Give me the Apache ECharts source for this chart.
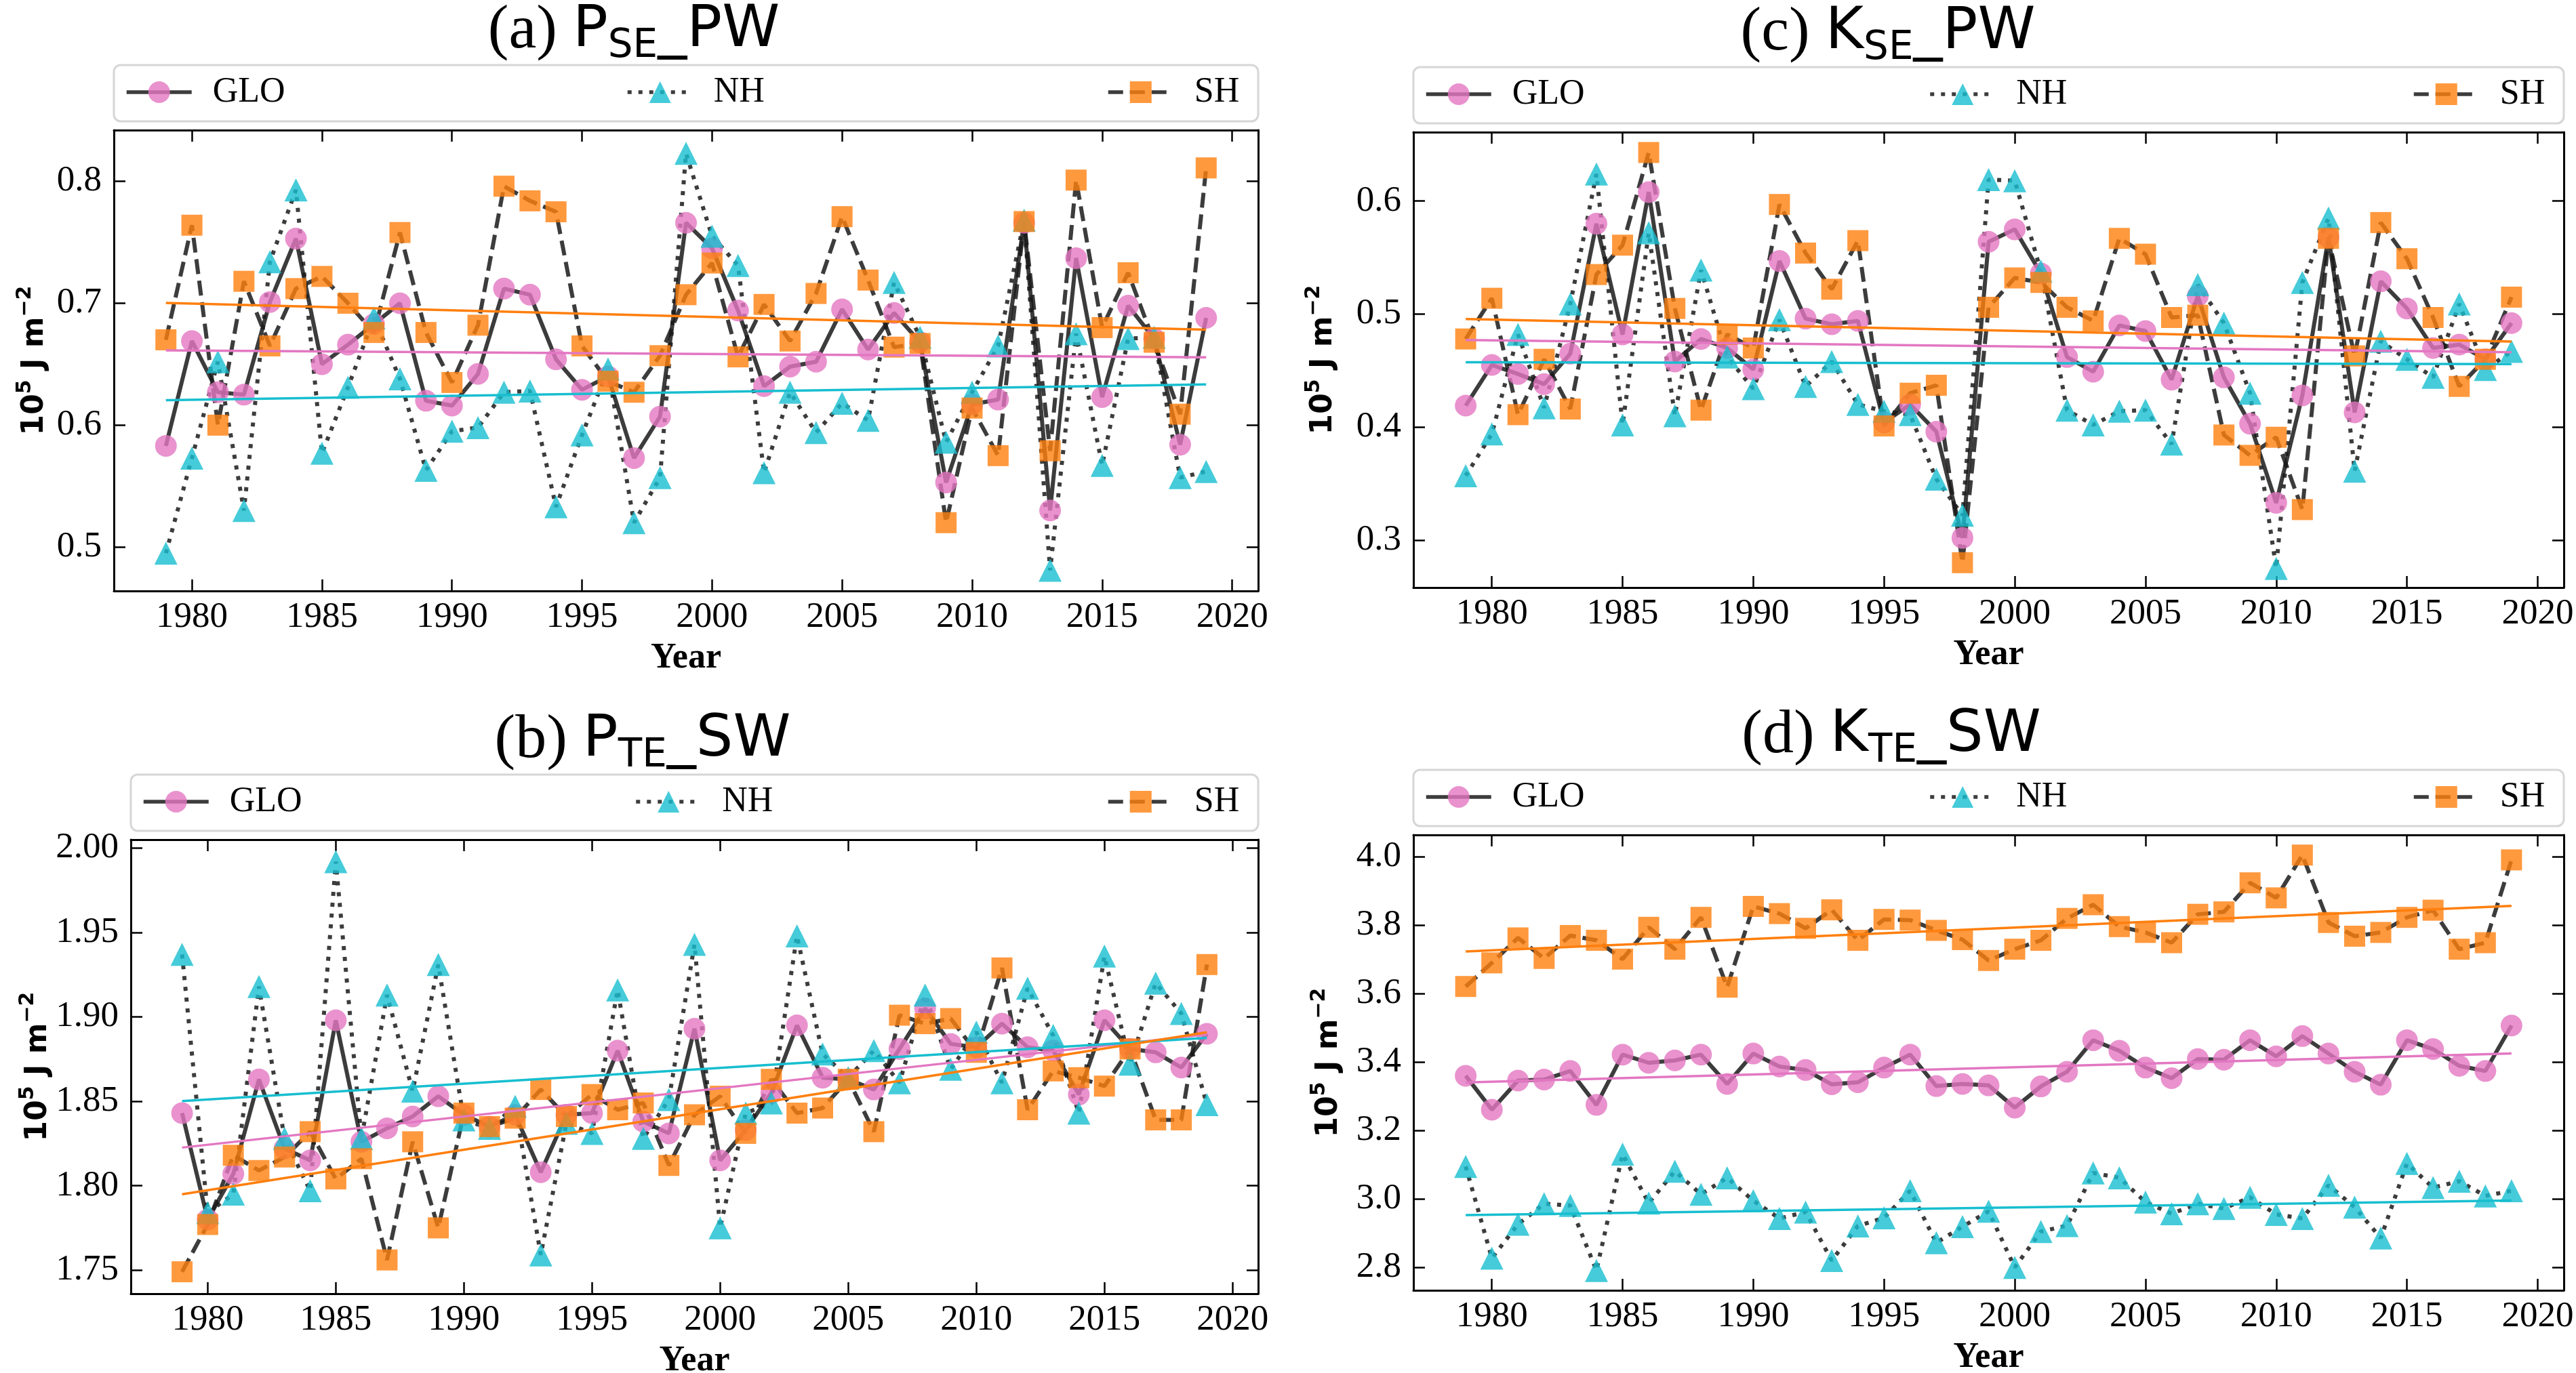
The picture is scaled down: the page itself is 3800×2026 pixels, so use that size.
<!DOCTYPE html>
<html>
<head>
<meta charset="utf-8">
<title>PW SW energy</title>
<script src="https://cdn.jsdelivr.net/npm/echarts@6/dist/echarts.min.js"></script>
<style>
    html, body { margin: 0; padding: 0; background: #fff; }
    #content { width: 3800px; height: 2026px; }
</style>
</head>
<body>
<div id="content"></div>
<script>
// 年份
var years = [1979, 1980, 1981, 1982, 1983, 1984, 1985, 1986, 1987, 1988,
    1989, 1990, 1991, 1992, 1993, 1994, 1995, 1996, 1997, 1998,
    1999, 2000, 2001, 2002, 2003, 2004, 2005, 2006, 2007, 2008,
    2009, 2010, 2011, 2012, 2013, 2014, 2015, 2016, 2017, 2018, 2019];
var xTicks = [1980, 1985, 1990, 1995, 2000, 2005, 2010, 2015, 2020];

// (a) P_SE_PW
var gloA = [0.583, 0.669, 0.627, 0.625, 0.701, 0.753, 0.650, 0.666, 0.683, 0.700,
    0.620, 0.616, 0.642, 0.712, 0.707, 0.654, 0.629, 0.640, 0.573, 0.607,
    0.766, 0.745, 0.694, 0.632, 0.648, 0.652, 0.695, 0.662, 0.692, 0.668,
    0.553, 0.617, 0.621, 0.766, 0.530, 0.737, 0.623, 0.698, 0.671, 0.584, 0.688];
var nhA = [0.495, 0.573, 0.652, 0.530, 0.734, 0.793, 0.577, 0.631, 0.688, 0.638,
    0.563, 0.595, 0.598, 0.627, 0.628, 0.533, 0.592, 0.646, 0.520, 0.557,
    0.823, 0.755, 0.731, 0.561, 0.627, 0.594, 0.618, 0.604, 0.717, 0.672,
    0.586, 0.627, 0.665, 0.768, 0.481, 0.675, 0.567, 0.671, 0.672, 0.557, 0.562];
var shA = [0.670, 0.764, 0.600, 0.718, 0.665, 0.712, 0.722, 0.700, 0.676, 0.758,
    0.676, 0.635, 0.682, 0.796, 0.784, 0.775, 0.665, 0.636, 0.627, 0.657,
    0.707, 0.733, 0.656, 0.699, 0.669, 0.708, 0.771, 0.719, 0.664, 0.667,
    0.520, 0.614, 0.575, 0.767, 0.579, 0.801, 0.680, 0.725, 0.668, 0.609, 0.811];
var yTicksA = [0.5, 0.6, 0.7, 0.8];

// (b) P_TE_SW
var gloB = [1.843, 1.780, 1.807, 1.863, 1.822, 1.815, 1.898, 1.826, 1.834, 1.841,
    1.853, 1.842, 1.835, 1.842, 1.808, 1.842, 1.843, 1.880, 1.838, 1.831,
    1.893, 1.815, 1.833, 1.855, 1.895, 1.864, 1.863, 1.857, 1.881, 1.905,
    1.884, 1.882, 1.896, 1.882, 1.880, 1.854, 1.898, 1.881, 1.879, 1.870, 1.890];
var nhB = [1.937, 1.784, 1.795, 1.918, 1.828, 1.797, 1.992, 1.828, 1.913, 1.856,
    1.931, 1.839, 1.834, 1.847, 1.759, 1.837, 1.831, 1.916, 1.828, 1.851,
    1.943, 1.775, 1.843, 1.849, 1.948, 1.878, 1.864, 1.880, 1.861, 1.913,
    1.869, 1.891, 1.861, 1.917, 1.889, 1.843, 1.936, 1.872, 1.920, 1.902, 1.848];
var shB = [1.749, 1.777, 1.818, 1.809, 1.817, 1.832, 1.804, 1.816, 1.756, 1.826,
    1.775, 1.843, 1.835, 1.840, 1.857, 1.841, 1.854, 1.845, 1.849, 1.812,
    1.842, 1.853, 1.831, 1.863, 1.843, 1.846, 1.863, 1.832, 1.901, 1.896,
    1.899, 1.879, 1.929, 1.845, 1.868, 1.864, 1.859, 1.881, 1.839, 1.839, 1.931];
var yTicksB = [1.75, 1.80, 1.85, 1.90, 1.95, 2.00];

// (c) K_SE_PW
var gloC = [0.419, 0.455, 0.447, 0.438, 0.465, 0.580, 0.482, 0.608, 0.458, 0.478,
    0.470, 0.451, 0.547, 0.496, 0.491, 0.494, 0.404, 0.420, 0.396, 0.302,
    0.564, 0.575, 0.536, 0.462, 0.449, 0.490, 0.485, 0.442, 0.516, 0.444,
    0.403, 0.333, 0.428, 0.568, 0.413, 0.529, 0.505, 0.470, 0.473, 0.460, 0.492];
var nhC = [0.357, 0.394, 0.482, 0.417, 0.509, 0.624, 0.402, 0.572, 0.410, 0.539,
    0.462, 0.434, 0.495, 0.436, 0.458, 0.420, 0.414, 0.411, 0.354, 0.322,
    0.619, 0.618, 0.538, 0.415, 0.402, 0.414, 0.415, 0.385, 0.526, 0.492,
    0.430, 0.275, 0.528, 0.585, 0.361, 0.476, 0.460, 0.444, 0.509, 0.451, 0.467];
var shC = [0.478, 0.514, 0.411, 0.460, 0.416, 0.535, 0.561, 0.643, 0.505, 0.415,
    0.482, 0.470, 0.597, 0.554, 0.522, 0.565, 0.401, 0.430, 0.437, 0.280,
    0.506, 0.532, 0.528, 0.506, 0.494, 0.567, 0.553, 0.497, 0.499, 0.393,
    0.375, 0.391, 0.327, 0.567, 0.463, 0.581, 0.549, 0.497, 0.436, 0.460, 0.515];
var yTicksC = [0.3, 0.4, 0.5, 0.6];

// (d) K_TE_SW
var gloD = [3.360, 3.261, 3.346, 3.349, 3.374, 3.275, 3.422, 3.398, 3.405, 3.422,
    3.336, 3.425, 3.387, 3.377, 3.335, 3.341, 3.384, 3.422, 3.330, 3.336,
    3.332, 3.267, 3.329, 3.372, 3.464, 3.433, 3.384, 3.353, 3.409, 3.407,
    3.464, 3.417, 3.476, 3.425, 3.372, 3.334, 3.464, 3.438, 3.389, 3.374, 3.507];
var nhD = [3.095, 2.827, 2.926, 2.986, 2.981, 2.791, 3.131, 2.988, 3.081, 3.014,
    3.062, 2.995, 2.943, 2.962, 2.820, 2.921, 2.945, 3.024, 2.872, 2.919,
    2.964, 2.800, 2.905, 2.922, 3.076, 3.062, 2.991, 2.957, 2.986, 2.972,
    3.005, 2.955, 2.943, 3.040, 2.976, 2.886, 3.104, 3.033, 3.052, 3.009, 3.024];
var shD = [3.621, 3.690, 3.763, 3.703, 3.770, 3.756, 3.701, 3.794, 3.730, 3.823,
    3.619, 3.855, 3.834, 3.791, 3.845, 3.756, 3.817, 3.815, 3.785, 3.758,
    3.697, 3.730, 3.756, 3.820, 3.860, 3.796, 3.779, 3.749, 3.832, 3.839,
    3.924, 3.880, 4.005, 3.808, 3.768, 3.779, 3.823, 3.844, 3.730, 3.749, 3.991];
var yTicksD = [2.8, 3.0, 3.2, 3.4, 3.6, 3.8, 4.0];

var SERIF = 'Liberation Serif';
var SANS = 'DejaVu Sans';
var C_GLO = '#e377c2', C_NH = '#17becf', C_SH = '#ff7f0e';

// 面板布局 (像素)
var panels = [
    {tag: '(a) ', v: 'P', sub: 'SE', rest: '_PW', glo: gloA, nh: nhA, sh: shA, ticks: yTicksA, dec: 1,
        min: 0.464, max: 0.842, left: 168, top: 192, width: 1688, height: 680, nameGap: 86, titleX: 935},
    {tag: '(b) ', v: 'P', sub: 'TE', rest: '_SW', glo: gloB, nh: nhB, sh: shB, ticks: yTicksB, dec: 2,
        min: 1.736, max: 2.005, left: 193, top: 1239, width: 1663, height: 670, nameGap: 98, titleX: 948},
    {tag: '(c) ', v: 'K', sub: 'SE', rest: '_PW', glo: gloC, nh: nhC, sh: shC, ticks: yTicksC, dec: 1,
        min: 0.258, max: 0.661, left: 2085, top: 195, width: 1697, height: 672, nameGap: 102, titleX: 2785},
    {tag: '(d) ', v: 'K', sub: 'TE', rest: '_SW', glo: gloD, nh: nhD, sh: shD, ticks: yTicksD, dec: 1,
        min: 2.733, max: 4.064, left: 2085, top: 1232, width: 1697, height: 672, nameGap: 94, titleX: 2790}
];

function pairs(vals) {
    return years.map(function (y, k) { return [y, vals[k]]; });
}

// 最小二乘趋势线
function trend(vals) {
    var n = years.length, sx = 0, sy = 0, sxx = 0, sxy = 0;
    for (var k = 0; k < n; k++) {
        sx += years[k]; sy += vals[k];
        sxx += years[k] * years[k]; sxy += years[k] * vals[k];
    }
    var b = (n * sxy - sx * sy) / (n * sxx - sx * sx);
    var a = (sy - b * sx) / n;
    var x0 = years[0], x1 = years[n - 1];
    return [[x0, a + b * x0], [x1, a + b * x1]];
}

var tickStyle = {show: true, inside: true, length: 17, lineStyle: {color: '#000', width: 2.5}};
var spine = {show: true, onZero: false, lineStyle: {color: '#000', width: 3}};

option = {
    animation: false,
    backgroundColor: '#fff',
    grid: [], xAxis: [], yAxis: [], series: [], legend: [], title: [],
    graphic: {elements: []}
};

panels.forEach(function (p, i) {
    option.grid.push({left: p.left, top: p.top, width: p.width, height: p.height,
        containLabel: false, outerBoundsMode: 'none'});

    option.xAxis.push({
        gridIndex: i, type: 'value', position: 'bottom', min: 1977, max: 2021,
        axisLine: spine, splitLine: {show: false},
        axisTick: Object.assign({customValues: xTicks}, tickStyle),
        axisLabel: {customValues: xTicks, margin: 13, color: '#000', fontFamily: SERIF, fontSize: 53,
            formatter: function (v) { return String(v); }},
        name: 'Year', nameLocation: 'middle', nameGap: 74,
        nameTextStyle: {fontFamily: SERIF, fontWeight: 'bold', fontSize: 52, color: '#000'}
    });
    option.xAxis.push({
        gridIndex: i, type: 'value', position: 'top', min: 1977, max: 2021,
        axisLine: spine, splitLine: {show: false},
        axisTick: Object.assign({customValues: xTicks}, tickStyle),
        axisLabel: {show: false}
    });
    option.yAxis.push({
        gridIndex: i, type: 'value', position: 'left', min: p.min, max: p.max,
        axisLine: spine, splitLine: {show: false},
        axisTick: Object.assign({customValues: p.ticks}, tickStyle),
        axisLabel: {customValues: p.ticks, margin: 18, color: '#000', fontFamily: SERIF, fontSize: 53,
            formatter: (function (d) { return function (v) { return v.toFixed(d); }; })(p.dec)},
        name: '{b|10}{s|5}{b| J m}{s|\u22122}', nameLocation: 'middle', nameRotate: 90, nameGap: p.nameGap,
        nameTextStyle: {color: '#000', rich: {
            b: {fontFamily: SANS, fontWeight: 'bold', fontSize: 44, lineHeight: 60, color: '#000'},
            s: {fontFamily: SANS, fontWeight: 'bold', fontSize: 30, lineHeight: 34, verticalAlign: 'top', color: '#000'}
        }}
    });
    option.yAxis.push({
        gridIndex: i, type: 'value', position: 'right', min: p.min, max: p.max,
        axisLine: spine, splitLine: {show: false},
        axisTick: Object.assign({customValues: p.ticks}, tickStyle),
        axisLabel: {show: false}
    });

    var xi = 2 * i, yi = 2 * i;
    var regions = [
        {name: 'GLO', vals: p.glo, color: C_GLO, symbol: 'circle', size: 32, line: 'solid'},
        {name: 'NH', vals: p.nh, color: C_NH, symbol: 'triangle', size: 34, line: [6, 10]},
        {name: 'SH', vals: p.sh, color: C_SH, symbol: 'rect', size: 31, line: [22, 10]}
    ];
    regions.forEach(function (r) {
        option.series.push({
            name: r.name, type: 'line', xAxisIndex: xi, yAxisIndex: yi,
            data: pairs(r.vals), symbol: r.symbol, symbolSize: r.size, showAllSymbol: true,
            itemStyle: {color: r.color, opacity: 0.8},
            lineStyle: {color: '#1a1a1a', width: 6, type: r.line, cap: 'butt', opacity: 0.85},
            z: 2
        });
    });
    regions.forEach(function (r) {
        option.series.push({
            name: r.name + ' trend', type: 'line', xAxisIndex: xi, yAxisIndex: yi,
            data: trend(r.vals), symbol: 'none',
            lineStyle: {color: r.color, width: 3.5}, z: 3
        });
    });

    // 图例框
    var right = p.left + p.width;
    option.graphic.elements.push({
        type: 'rect', z: 1,
        shape: {x: p.left, y: p.top - 96, width: p.width, height: 83, r: 10},
        style: {fill: '#fff', stroke: '#d6d6d6', lineWidth: 3}
    });
    var legLefts = [p.left + 16, p.left + p.width / 2 - 89, right - 224];
    ['GLO', 'NH', 'SH'].forEach(function (nm, k) {
        option.legend.push({
            data: [nm], left: legLefts[k], top: p.top - 82, padding: 0,
            itemWidth: 96, itemHeight: 40, selectedMode: false, z: 5,
            lineStyle: {width: 5.5},
            textStyle: {fontFamily: SERIF, fontSize: 52, color: '#000', padding: [0, 0, 0, 26]}
        });
    });

    option.title.push({
        text: '{t|' + p.tag + '}{v|' + p.v + '}{s|' + p.sub + '}{v|' + p.rest + '}',
        left: p.titleX, textAlign: 'center', top: p.top - 198, padding: 0,
        textStyle: {fontWeight: 'normal', rich: {
            t: {fontFamily: SERIF, fontWeight: 'normal', fontSize: 92, lineHeight: 104, color: '#000'},
            v: {fontFamily: SANS, fontWeight: 'normal', fontSize: 86, lineHeight: 104, color: '#000'},
            s: {fontFamily: SANS, fontWeight: 'normal', fontSize: 58, lineHeight: 50, verticalAlign: 'bottom', color: '#000'}
        }}
    });
});

var myChart;
myChart = echarts.init(document.getElementById('content'));
myChart.setOption(option);
</script>
</body>
</html>
